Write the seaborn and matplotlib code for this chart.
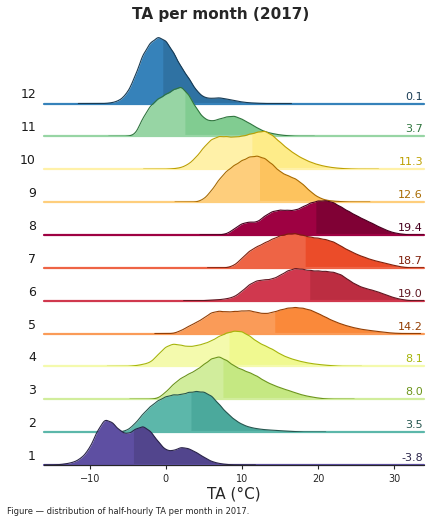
import colorsys
import numpy as np
import seaborn as sns
import matplotlib.pyplot as plt

# month summary
month_nums = [1, 2, 3, 4, 5, 6, 7, 8, 9, 10, 11, 12]
month_means = [-3.8, 3.5, 8.0, 8.1, 14.2, 19.0, 18.7, 19.4, 12.6, 11.3, 3.7, 0.1]
month_medians = [-4.25, 3.3, 7.5, 8.3, 14.3, 18.9, 18.3, 19.7, 12.3, 11.3, 2.5, -0.4]

# ridge profiles: temperature (°C) and relative curve height
jan_t = [-15, -14, -13, -12, -11, -10, -9, -8, -7, -6, -5, -4, -3, -2, -1, 0, 1, 2, 3, 4, 5, 6, 7, 8, 9]
jan_d = [0, 0.3, 1.3, 3, 7.5, 17, 35, 48, 44, 35, 31.5, 37, 40.5, 35, 24, 15, 14.5, 18.5, 17, 13, 8, 3.5, 1.5, 0.5, 0]
feb_t = [-6, -5, -4, -3, -2, -1, 0, 1, 2, 3, 4, 5, 6, 7, 8, 9, 10, 11, 12, 13, 14, 15, 16, 17, 18]
feb_d = [0, 2, 9, 19, 27, 33, 37, 39, 39, 41.5, 42.5, 42, 38, 29, 20, 13, 8, 5, 3.5, 2.5, 2, 1.5, 1, 0.5, 0]
mar_t = [-2, -1, 0, 1, 2, 3, 4, 5, 6, 7, 8, 9, 10, 11, 12, 13, 14, 15, 16, 17, 18, 19, 20, 21, 22]
mar_d = [0, 1, 7, 15, 21, 25, 29, 34.5, 40.5, 42.7, 38.7, 33, 29.5, 26.5, 23, 18, 14.5, 11.5, 9, 6.5, 4, 2.5, 1.2, 0.3, 0]
apr_t = [-5, -4, -3, -2, -1, 0, 1, 2, 3, 4, 5, 6, 7, 8, 9, 10, 11, 12, 13, 14, 15, 16, 17, 18, 19, 20, 21, 22, 23]
apr_d = [0, 0.7, 2, 4, 12, 20, 23, 21.5, 20, 21, 23, 26, 30.5, 34, 36, 35.5, 31, 25, 21, 17.5, 12.5, 9, 6.5, 4.5, 3, 2, 1.2, 0.6, 0]
may_t = [1, 2, 3, 4, 5, 6, 7, 8, 9, 10, 11, 12, 13, 14, 15, 16, 17, 18, 19, 20, 21, 22, 23, 24, 25, 26, 27, 28, 29, 30, 31]
may_d = [0, 3, 7.5, 11.5, 16, 22, 23.5, 22.5, 23, 23.5, 24, 22, 20.5, 22, 24.5, 26.5, 27.3, 26.5, 24.5, 21, 17, 13, 10, 7.5, 5.5, 4, 3, 2, 1, 0.3, 0]
jun_t = [5, 6, 7, 8, 9, 10, 11, 12, 13, 14, 15, 16, 17, 18, 19, 20, 21, 22, 23, 24, 25, 26, 27, 28, 29, 30, 31, 32]
jun_d = [0, 0.7, 1, 2, 4, 10, 17.5, 21.5, 22.3, 23, 27, 32, 34.7, 33.5, 32.2, 31.8, 31.3, 30.5, 28, 22, 17, 13.5, 11.5, 9, 6, 3, 1.2, 0]
jul_t = [8, 9, 10, 11, 12, 13, 14, 15, 16, 17, 18, 19, 20, 21, 22, 23, 24, 25, 26, 27, 28, 29, 30, 31, 32]
jul_d = [0, 2.5, 10, 18, 22.5, 26.5, 30.5, 34, 36, 36.5, 34.5, 32.5, 31.5, 30, 27.7, 23, 18.5, 14.5, 11.5, 8.5, 6.5, 4.5, 2.5, 0.8, 0]
aug_t = [7, 8, 9, 10, 11, 12, 13, 14, 15, 16, 17, 18, 19, 20, 21, 22, 23, 24, 25, 26, 27, 28, 29, 30, 31, 32]
aug_d = [0, 1, 6, 11.5, 13, 12.5, 19, 23.5, 25, 24.5, 24.5, 28, 32, 34, 34.3, 32.5, 28, 23.5, 19.5, 15.5, 12, 8, 4.5, 2, 0.8, 0]
sep_t = [4, 5, 6, 7, 8, 9, 10, 11, 12, 13, 14, 15, 16, 17, 18, 19, 20, 21, 22, 23, 24]
sep_d = [0, 3, 12, 24, 33, 39, 44, 48, 49, 46.5, 40, 32, 28, 25, 19, 11, 5, 2, 1, 0.5, 0]
oct_t = [0, 1, 2, 3, 4, 5, 6, 7, 8, 9, 10, 11, 12, 13, 14, 15, 16, 17, 18, 19, 20, 21, 22, 23, 24, 25]
oct_d = [0, 0.5, 1.5, 5, 12, 22, 30, 33, 32.5, 32, 33, 35, 37, 38.5, 34, 27, 20.5, 15, 10.5, 7, 4.5, 2.7, 1.5, 0.8, 0.3, 0]
nov_t = [-5, -4, -3, -2, -1, 0, 1, 2, 3, 4, 5, 6, 7, 8, 9, 10, 11, 12, 13, 14, 15, 16, 17]
nov_d = [0, 2, 20, 33, 40.5, 45, 50, 54, 45, 30, 19, 16, 18.5, 21, 22, 18.5, 14, 9, 5, 3, 1.5, 0.7, 0]
dec_t = [-8, -7, -6, -5, -4, -3, -2, -1, 0, 1, 2, 3, 4, 5, 6, 7, 8, 9, 10, 11, 12, 13]
dec_d = [0, 0.8, 3.3, 11, 28, 50, 62, 68, 64, 52, 37, 26, 13, 6, 5, 6, 4.5, 3, 1.5, 0.7, 0.3, 0]

temps = [jan_t, feb_t, mar_t, apr_t, may_t, jun_t, jul_t, aug_t, sep_t, oct_t, nov_t, dec_t]
dens = [jan_d, feb_d, mar_d, apr_d, may_d, jun_d, jul_d, aug_d, sep_d, oct_d, nov_d, dec_d]


def shade(rgb, dl=0.0, scale=1.0):
    h, l, s = colorsys.rgb_to_hls(*rgb[:3])
    return colorsys.hls_to_rgb(h, max(0.0, l * scale + dl), s)


sns.set_style("ticks", {"axes.facecolor": (0, 0, 0, 0)})

W, H = 431, 523
fig = plt.figure(figsize=(W / 100, H / 100), dpi=100)
ax_h = 80            # axes height in px
px_per_density = 435  # vertical scale shared by all ridges

# colour by rank of the monthly mean
rank = np.argsort(np.argsort(month_means))

for row, m in enumerate(range(11, -1, -1)):  # December on top
    base_y = 103.5 + row * 32.86
    ax = fig.add_axes([44 / W, 1 - base_y / H, 380 / W, ax_h / H])
    t = np.array(temps[m], dtype=float)
    d = np.array(dens[m], dtype=float)
    col = plt.cm.Spectral_r(rank[m] / 11)[:3]
    dark = shade(col, dl=-0.06)
    edge = shade(col, scale=0.45)

    sd = np.sqrt(np.cov(t, aweights=d))
    kw = dict(x=t, weights=d, bw_method=0.55 / sd, ax=ax)
    # whole ridge in the base colour, then the part above the median darker
    sns.kdeplot(**kw, fill=True, color=col, alpha=1, linewidth=0)
    sns.kdeplot(**kw, clip=(month_medians[m], None), fill=True, color=dark, alpha=1, linewidth=0)
    ax.axhline(0, color=col, lw=1.6, clip_on=False)
    sns.kdeplot(**kw, color=edge, linewidth=0.8)

    ax.set_xlim(-16, 33.9)
    ax.set_ylim(0, ax_h / px_per_density)
    ax.set_ylabel("")
    ax.set_yticks([])
    for s in ["left", "right", "top"]:
        ax.spines[s].set_visible(False)

    ax.text(-8 / 380, 8.5 / ax_h, str(month_nums[m]), transform=ax.transAxes,
            ha="right", va="center", fontsize=9, color=".1")
    ax.text(379 / 380, 2 / ax_h, f"{month_means[m]:.1f}", transform=ax.transAxes,
            ha="right", va="bottom", fontsize=8, color=edge)

    if m == 0:
        ax.set_xticks([-10, 0, 10, 20, 30])
        ax.tick_params(axis="x", labelsize=7, length=3, width=0.8)
        ax.spines["bottom"].set_linewidth(0.8)
        ax.set_xlabel("TA (°C)", fontsize=11, labelpad=2)
    else:
        ax.set_xticks([])
        ax.set_xlabel("")
        ax.spines["bottom"].set_visible(False)

fig.text(0.513, 1 - 14 / H, "TA per month (2017)", ha="center", va="center",
         fontsize=11, fontweight="bold")
fig.text(7 / W, 1 - 511 / H, "Figure — distribution of half-hourly TA per month in 2017.",
         ha="left", va="center", fontsize=6, color=".15")

fig.savefig("out.png", dpi=100)
